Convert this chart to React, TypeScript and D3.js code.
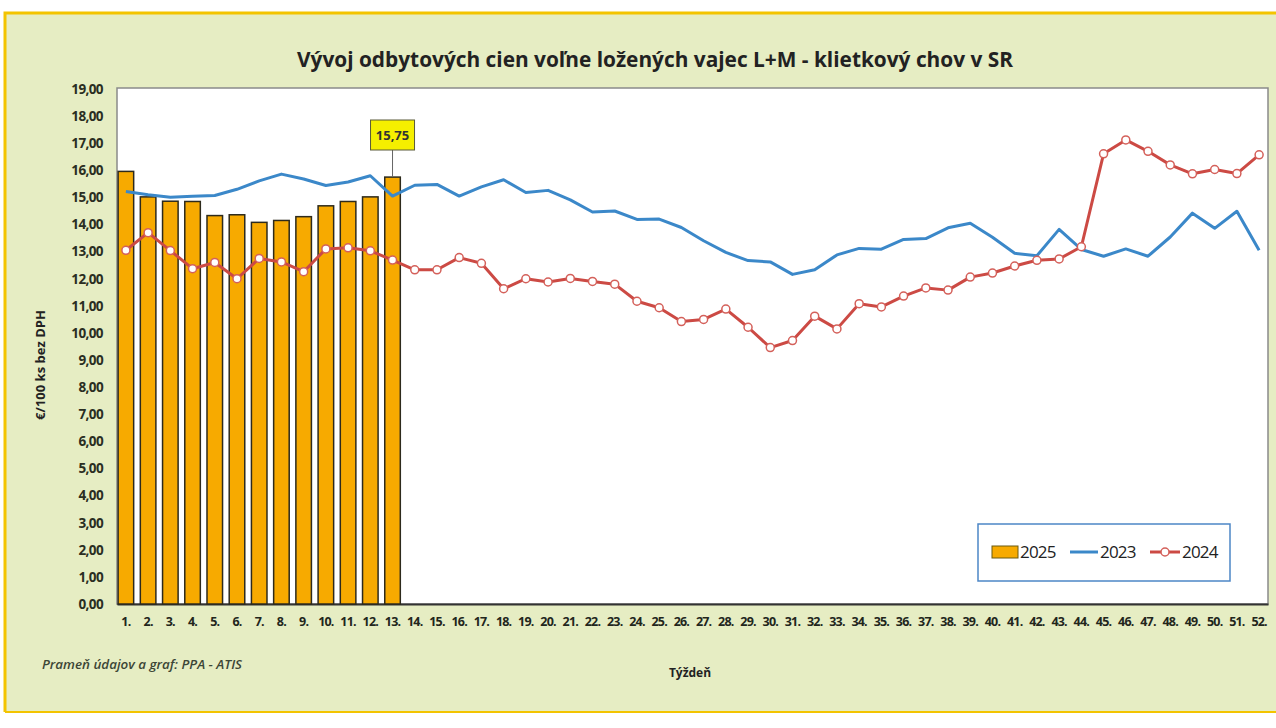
import React, { useEffect, useRef } from 'react';
import * as d3 from 'd3';

// weeks (categories)
const weeks = ['1.', '2.', '3.', '4.', '5.', '6.', '7.', '8.', '9.', '10.', '11.', '12.', '13.', '14.', '15.', '16.', '17.', '18.', '19.', '20.', '21.', '22.', '23.', '24.', '25.', '26.', '27.', '28.', '29.', '30.', '31.', '32.', '33.', '34.', '35.', '36.', '37.', '38.', '39.', '40.', '41.', '42.', '43.', '44.', '45.', '46.', '47.', '48.', '49.', '50.', '51.', '52.'];

// 2025 - bars
const values2025 = [15.96, 15.02, 14.86, 14.85, 14.33, 14.36, 14.08, 14.15, 14.29, 14.69, 14.85, 15.02, 15.75];

// 2023 - blue line
const values2023 = [15.22, 15.10, 15.01, 15.04, 15.07, 15.30, 15.61, 15.86, 15.68, 15.44, 15.57, 15.80, 15.05,
  15.45, 15.48, 15.05, 15.39, 15.65, 15.18, 15.26, 14.91, 14.46, 14.50, 14.19, 14.20, 13.89, 13.40, 12.97,
  12.67, 12.62, 12.16, 12.33, 12.88, 13.12, 13.09, 13.45, 13.48, 13.88, 14.05, 13.53, 12.94, 12.85, 13.82,
  13.08, 12.83, 13.10, 12.83, 13.54, 14.42, 13.86, 14.49, 13.05];

// 2024 - red line with markers
const values2024 = [13.05, 13.70, 13.04, 12.37, 12.60, 12.00, 12.75, 12.62, 12.26, 13.10, 13.14, 13.03, 12.69,
  12.33, 12.33, 12.78, 12.57, 11.63, 12.00, 11.88, 12.01, 11.90, 11.80, 11.17, 10.93, 10.42, 10.50, 10.88,
  10.21, 9.46, 9.72, 10.62, 10.15, 11.08, 10.96, 11.36, 11.66, 11.58, 12.06, 12.21, 12.47, 12.68, 12.73,
  13.18, 16.61, 17.12, 16.70, 16.20, 15.87, 16.03, 15.88, 16.57];

const yTicks = [0, 1, 2, 3, 4, 5, 6, 7, 8, 9, 10, 11, 12, 13, 14, 15, 16, 17, 18, 19];

const W = 1276;
const H = 728;
const FONT = "'Open Sans', 'Noto Sans', sans-serif";

const fmt = (v: number) => d3.format('.2f')(v).replace('.', ',');

function EggChart() {
  const ref = useRef<SVGSVGElement>(null);

  useEffect(() => {
    const svg = d3.select(ref.current);
    svg.selectAll('*').remove();

    //Plot area
    const left = 117, right = 1268, top = 88, bottom = 604;

    //Background frame
    svg.append('rect').attr('x', 5).attr('y', 12).attr('width', W - 5).attr('height', 700)
      .attr('fill', '#e6edc3');
    svg.append('path').attr('d', `M5,712 L5,13 L${W},13`).attr('fill', 'none')
      .attr('stroke', '#f3c400').attr('stroke-width', 3);
    svg.append('line').attr('x1', 5).attr('x2', W).attr('y1', 712).attr('y2', 712)
      .attr('stroke', '#f3c400').attr('stroke-width', 2);

    svg.append('rect').attr('x', left).attr('y', top).attr('width', right - left).attr('height', bottom - top)
      .attr('fill', '#ffffff').attr('stroke', '#8a8a8a').attr('stroke-width', 1.5);

    //Scales
    const x = d3.scaleBand().domain(weeks).range([left, right]).paddingInner(0.3).paddingOuter(0.05);
    const y = d3.scaleLinear().domain([0, 19]).range([bottom, top + 1]);
    const cx = (i: number) => (x(weeks[i]) as number) + x.bandwidth() / 2;

    //Title
    svg.append('text').attr('x', 655).attr('y', 67).attr('text-anchor', 'middle')
      .attr('font-family', FONT).attr('font-weight', 700).attr('font-size', 22)
      .attr('fill', '#222').attr('textLength', 716).attr('lengthAdjust', 'spacingAndGlyphs')
      .text('Vývoj odbytových cien voľne ložených vajec L+M - klietkový chov v SR');

    //Y axis
    const yAxis = d3.axisLeft(y).tickValues(yTicks).tickFormat((d) => fmt(d as number)).tickSize(0).tickPadding(14);
    const gy = svg.append('g').attr('transform', `translate(${left},0)`).call(yAxis);
    gy.select('.domain').remove();
    gy.selectAll('text').attr('font-family', FONT).attr('font-weight', 700).attr('font-size', 13.5)
      .attr('fill', '#2a2e22').attr('letter-spacing', -0.6);

    svg.append('text').attr('transform', `translate(45,${365}) rotate(-90)`).attr('text-anchor', 'middle')
      .attr('font-family', FONT).attr('font-weight', 700).attr('font-size', 13).attr('fill', '#222')
      .text('€/100 ks bez DPH');

    //X axis
    const xAxis = d3.axisBottom(x).tickSize(0).tickPadding(13);
    const gx = svg.append('g').attr('transform', `translate(0,${bottom})`).call(xAxis);
    gx.select('.domain').attr('stroke', '#333').attr('stroke-width', 2);
    gx.selectAll('text').attr('font-family', FONT).attr('font-weight', 700).attr('font-size', 12.5)
      .attr('fill', '#22261c').attr('letter-spacing', -0.8);

    svg.append('text').attr('x', 690).attr('y', 677).attr('text-anchor', 'middle')
      .attr('font-family', FONT).attr('font-weight', 700).attr('font-size', 12).attr('fill', '#222')
      .text('Týždeň');

    svg.append('text').attr('x', 42).attr('y', 669)
      .attr('font-family', FONT).attr('font-style', 'italic').attr('font-weight', 600).attr('font-size', 13)
      .attr('fill', '#3c4636').attr('textLength', 200).attr('lengthAdjust', 'spacingAndGlyphs')
      .text('Prameň údajov a graf: PPA - ATIS');

    //Bars 2025
    svg.selectAll('.bar').data(values2025).enter().append('rect')
      .attr('class', 'bar')
      .attr('x', (d, i) => x(weeks[i]) as number)
      .attr('width', x.bandwidth())
      .attr('y', (d) => y(d))
      .attr('height', (d) => y(0) - y(d))
      .attr('fill', '#f7aa00')
      .attr('stroke', '#2d2a1c')
      .attr('stroke-width', 1.5);

    //Line 2023
    const line = d3.line<number>().x((d, i) => cx(i)).y((d) => y(d));
    svg.append('path').datum(values2023).attr('d', line)
      .attr('fill', 'none').attr('stroke', '#3b88c9').attr('stroke-width', 3).attr('stroke-linejoin', 'round');

    //Line 2024
    svg.append('path').datum(values2024).attr('d', line)
      .attr('fill', 'none').attr('stroke', '#cc4a44').attr('stroke-width', 3).attr('stroke-linejoin', 'round');
    svg.selectAll('.dot').data(values2024).enter().append('circle')
      .attr('class', 'dot')
      .attr('cx', (d, i) => cx(i)).attr('cy', (d) => y(d)).attr('r', 4)
      .attr('fill', '#ffffff').attr('stroke', '#d4605a').attr('stroke-width', 1.5);

    //Data label for last 2025 value
    const last = values2025.length - 1;
    const lx = cx(last);
    svg.append('line').attr('x1', lx).attr('x2', lx).attr('y1', 150).attr('y2', y(values2025[last]))
      .attr('stroke', '#666').attr('stroke-width', 1);
    svg.append('rect').attr('x', lx - 22).attr('y', 120).attr('width', 44).attr('height', 30)
      .attr('fill', '#f5ef00').attr('stroke', '#5a5a3a').attr('stroke-width', 1);
    svg.append('text').attr('x', lx).attr('y', 140).attr('text-anchor', 'middle')
      .attr('font-family', FONT).attr('font-weight', 700).attr('font-size', 13).attr('fill', '#333')
      .text(fmt(values2025[last]));

    //Legend
    const lg = svg.append('g').attr('transform', 'translate(978,524)');
    lg.append('rect').attr('width', 252).attr('height', 57).attr('fill', '#fff')
      .attr('stroke', '#4c86c6').attr('stroke-width', 1.5);
    lg.append('rect').attr('x', 14).attr('y', 22).attr('width', 26).attr('height', 12)
      .attr('fill', '#f7aa00').attr('stroke', '#6b5a10');
    lg.append('line').attr('x1', 92).attr('x2', 120).attr('y1', 28).attr('y2', 28)
      .attr('stroke', '#3b88c9').attr('stroke-width', 3);
    lg.append('line').attr('x1', 172).attr('x2', 202).attr('y1', 28).attr('y2', 28)
      .attr('stroke', '#cc4a44').attr('stroke-width', 3);
    lg.append('circle').attr('cx', 187).attr('cy', 28).attr('r', 4)
      .attr('fill', '#fff').attr('stroke', '#d4605a').attr('stroke-width', 1.5);
    const names = ['2025', '2023', '2024'];
    const nx = [42, 122, 204];
    lg.selectAll('.lt').data(names).enter().append('text')
      .attr('class', 'lt')
      .attr('x', (d, i) => nx[i]).attr('y', 34)
      .attr('font-family', FONT).attr('font-size', 17).attr('fill', '#222').attr('letter-spacing', -0.8)
      .text((d) => d);
  }, []);

  return <svg ref={ref} width={W} height={H} style={{ position: 'absolute', left: 0, top: 0, background: '#fff' }} />;
}

export default function App() {
  return <EggChart />;
}
